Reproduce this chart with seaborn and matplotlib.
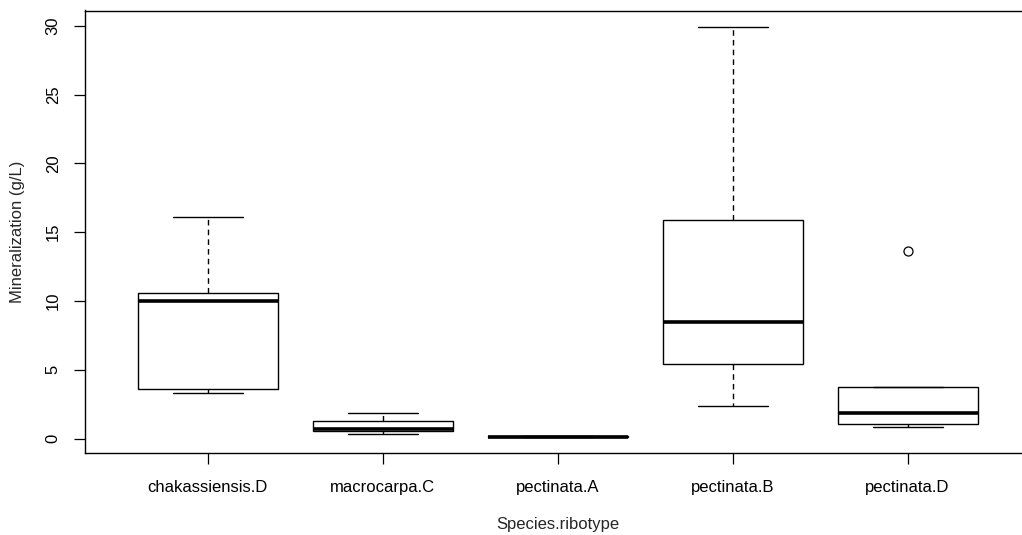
import matplotlib
matplotlib.use("Agg")
import matplotlib.pyplot as plt
import seaborn as sns
import pandas as pd

categories = ["chakassiensis.D", "macrocarpa.C", "pectinata.A", "pectinata.B", "pectinata.D"]
chakassiensis_D = [3.28, 3.57, 9.98, 10.56, 16.1]
macrocarpa_C = [0.34, 0.53, 0.71, 1.26, 1.84]
pectinata_A = [0.12, 0.14, 0.15, 0.16, 0.18]
pectinata_B = [2.4, 5.39, 8.45, 15.88, 29.93]
pectinata_D = [0.82, 1.04, 1.85, 3.77, 13.62]
y_ticks = [0, 5, 10, 15, 20, 25, 30]

series = [chakassiensis_D, macrocarpa_C, pectinata_A, pectinata_B, pectinata_D]
rows = []
for cat, vals in zip(categories, series):
    for v in vals:
        rows.append({"Species.ribotype": cat, "Mineralization (g/L)": v})
df = pd.DataFrame(rows)

sns.set_style("white")
plt.rcParams["font.family"] = ["Liberation Sans", "DejaVu Sans"]

fig = plt.figure(figsize=(10.22, 5.35), dpi=100)
ax = fig.add_axes([85 / 1022, (535 - 453.3) / 535, 945 / 1022, (453.3 - 10.5) / 535])

sns.boxplot(
    data=df, x="Species.ribotype", y="Mineralization (g/L)", order=categories,
    width=0.8, color="white", linecolor="black", linewidth=1.0, whis=1.5,
    medianprops=dict(linewidth=2.6, color="black"),
    whiskerprops=dict(linestyle=(0, (4, 3)), linewidth=1.0, color="black"),
    capprops=dict(linestyle="-", linewidth=1.0, color="black"),
    flierprops=dict(marker="o", markersize=6.5, markerfacecolor="white",
                    markeredgecolor="black", markeredgewidth=0.9),
    ax=ax,
)

ax.set_xlim(-0.7, 4.7)
ax.set_ylim(-1.07, 31.12)
ax.set_yticks(y_ticks)
ax.set_yticklabels([str(t) for t in y_ticks], rotation=90, va="center")
for s in ax.spines.values():
    s.set_visible(True)
    s.set_color("black")
    s.set_linewidth(1.0)
ax.tick_params(axis="both", direction="out", length=8, width=0.9, color="black",
               labelsize=12, labelcolor="black", bottom=True, left=True)
ax.tick_params(axis="x", pad=11)
ax.tick_params(axis="y", pad=9.5)
ax.set_xlabel("Species.ribotype", fontsize=12, labelpad=16)
ax.set_ylabel("Mineralization (g/L)", fontsize=12, labelpad=15)

fig.savefig("out.png", dpi=100)
